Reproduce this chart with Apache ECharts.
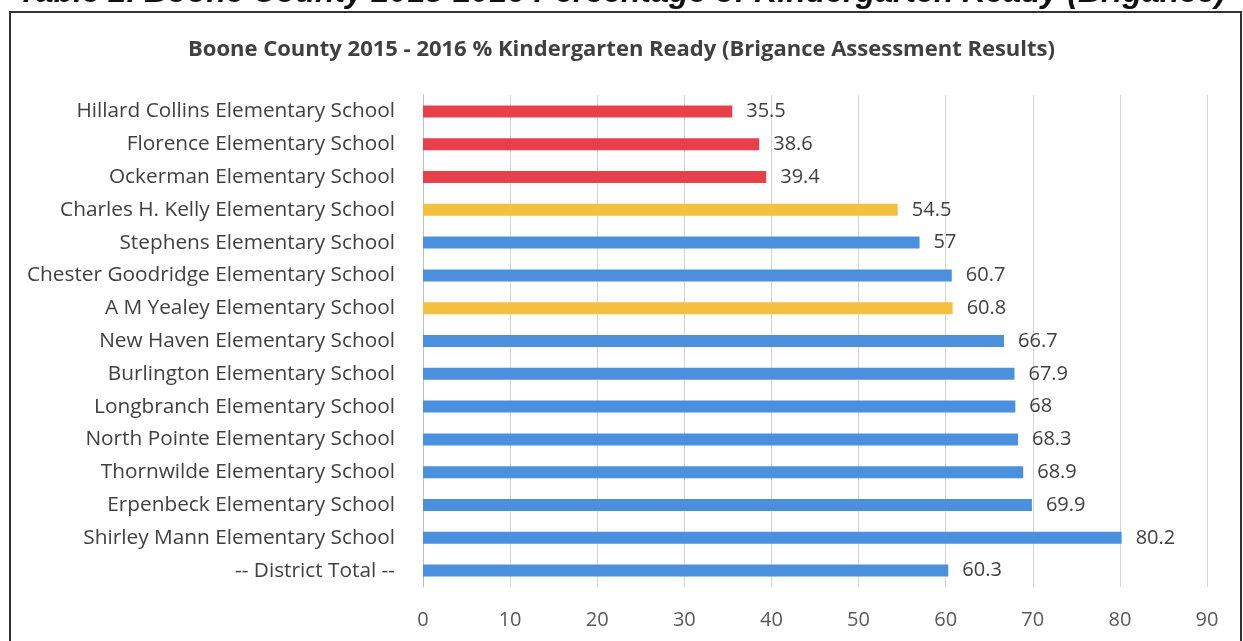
<!DOCTYPE html>
<html><head><meta charset="utf-8">
<script src="https://cdn.jsdelivr.net/npm/echarts@6/dist/echarts.min.js"></script>
<style>html,body{margin:0;padding:0;background:#fff}#c{width:1243px;height:641px}</style>
</head><body><div id="c"></div>
<script>
const categories = ["Hillard Collins Elementary School","Florence Elementary School","Ockerman Elementary School","Charles H. Kelly Elementary School","Stephens Elementary School","Chester Goodridge Elementary School","A M Yealey Elementary School","New Haven Elementary School","Burlington Elementary School","Longbranch Elementary School","North Pointe Elementary School","Thornwilde Elementary School","Erpenbeck Elementary School","Shirley Mann Elementary School","-- District Total --"];
const values = [35.5,38.6,39.4,54.5,57,60.7,60.8,66.7,67.9,68,68.3,68.9,69.9,80.2,60.3];
const colorGroups = ["red","red","red","yellow","blue","blue","yellow","blue","blue","blue","blue","blue","blue","blue","blue"];
const xTicks = [0,10,20,30,40,50,60,70,80,90];
const palette = {red:"#e8404a", yellow:"#f4c040", blue:"#4a90dc"};

const chart = echarts.init(document.getElementById('c'));
chart.setOption({
  animation:false,
  title:{text:"Boone County 2015 - 2016 % Kindergarten Ready (Brigance Assessment Results)",left:'center',top:34,
    textStyle:{fontFamily:'Open Sans',fontSize:22,fontWeight:'bold',color:'#404040'}},
  graphic:[
    {type:'rect',shape:{x:10,y:12,width:1231,height:700},style:{fill:'none',stroke:'#333',lineWidth:2}},
    {type:'text',left:'center',top:-23,style:{text:"Table 2. Boone County 2015-2016 Percentage of Kindergarten Ready (Brigance)",font:'italic bold 32px "Liberation Sans"',fill:'#111'}}
  ],
  grid:{left:423,right:36,top:95,bottom:54,containLabel:false},
  xAxis:{type:'value',min:0,max:90,interval:10,
    axisLine:{show:false},axisTick:{show:false},
    axisLabel:{fontFamily:'Open Sans',fontSize:20,color:'#595959',margin:23,formatter:v=>xTicks.includes(v)?String(v):''},
    splitLine:{lineStyle:{color:'#d4d4d4',width:1}}},
  yAxis:{type:'category',data:categories,inverse:true,
    axisLine:{show:true,lineStyle:{color:'#bfbfbf'}},axisTick:{show:false},
    axisLabel:{fontFamily:'Open Sans',fontSize:20.8,color:'#404040',margin:28}},
  series:[{type:'bar',barWidth:12,
    data:values.map((v,i)=>({value:v,itemStyle:{color:palette[colorGroups[i]]}})),
    label:{show:true,position:'right',distance:14,fontFamily:'Open Sans',fontSize:20,color:'#404040'}}]
});
</script></body></html>
